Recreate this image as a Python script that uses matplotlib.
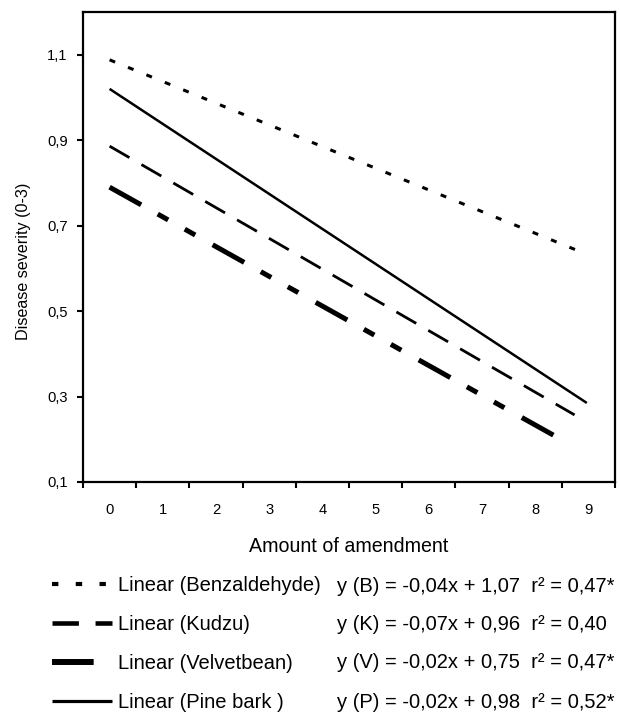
import matplotlib
matplotlib.use("Agg")
import matplotlib.pyplot as plt
from matplotlib import font_manager
from matplotlib.legend_handler import HandlerLine2D

# trendline end points (x = amount of amendment)
names = ["Linear (Benzaldehyde)", "Linear (Kudzu)", "Linear (Velvetbean)", "Linear (Pine bark )"]
x_start = [0, 0, 0, 0]
x_end = [8.83, 8.74, 8.61, 8.97]
y_start = [1.088, 0.886, 0.79, 1.02]
y_end = [0.64, 0.257, 0.191, 0.285]
equations = [
    "y (B) = -0,04x + 1,07  r\u00b2 = 0,47*",
    "y (K) = -0,07x + 0,96  r\u00b2 = 0,40",
    "y (V) = -0,02x + 0,75  r\u00b2 = 0,47*",
    "y (P) = -0,02x + 0,98  r\u00b2 = 0,52*",
]
x_labels = [str(i) for i in range(10)]
y_ticks = [0.1, 0.3, 0.5, 0.7, 0.9, 1.1]

# line looks (dashes in points, not scaled by width)
widths = [2.2, 2.0, 3.6, 1.8]
dashes = [(4.3, 10), (16.5, 10), (26, 13.7, 8.6, 13.7, 8.6, 14.4), None]
# the legend keys are drawn a bit heavier in the original
leg_widths = [3.0, 3.3, 4.3, 2.3]
leg_dashes = [(4.6, 12.5), (19, 12), (30, 100), None]

try:
    font_manager.findfont("Liberation Sans Narrow", fallback_to_default=False)
    fam = "Liberation Sans Narrow"
    k = 1.0
except ValueError:
    fam = "Liberation Sans"
    k = 0.84

plt.rcParams["font.family"] = [fam, "DejaVu Sans"]
plt.rcParams["lines.scale_dashes"] = False

fig = plt.figure(figsize=(6.2, 7.15), dpi=100)
ax = fig.add_axes([83 / 620, 233 / 715, 532 / 620, 470 / 715])

lines = []
for i in range(len(names)):
    ln, = ax.plot([x_start[i], x_end[i]], [y_start[i], y_end[i]], color="black",
                  lw=widths[i], solid_capstyle="butt", label=names[i])
    if dashes[i] is not None:
        ln.set_dashes(dashes[i])
    lines.append(ln)

ax.set_xlim(-0.5, 9.5)
ax.set_ylim(0.1, 1.2)
ax.set_xticks([i - 0.5 for i in range(11)])
ax.set_xticklabels([])
ax.set_xticks(range(10), minor=True)
ax.set_xticklabels(x_labels, minor=True, fontsize=12.6 * k)
ax.set_yticks(y_ticks)
ax.set_yticklabels([("%.1f" % v).replace(".", ",") for v in y_ticks], fontsize=12.6 * k)
ax.tick_params(which="major", direction="out", length=4, width=1.5, pad=7)
ax.tick_params(axis="x", which="minor", length=0, pad=15)
for s in ax.spines.values():
    s.set_linewidth(1.6)

ax.set_xlabel("Amount of amendment", fontsize=16.8 * k)
ax.xaxis.set_label_coords(0.5, -0.116)
ax.set_ylabel("Disease severity (0-3)", fontsize=13.8 * k)
ax.yaxis.set_label_coords(-0.098, 0.469)


def key_style(i):
    def update(leg_line, orig):
        leg_line.update_from(orig)
        leg_line.set_linewidth(leg_widths[i])
        if leg_dashes[i] is not None:
            leg_line.set_dashes(leg_dashes[i])
    return HandlerLine2D(update_func=update)


handler_map = {lines[i]: key_style(i) for i in range(len(lines))}
fig.legend(lines, names, loc="upper left", bbox_to_anchor=(52 / 620, 1 - 576 / 715),
           frameon=False, fontsize=17.3 * k, handlelength=2.97, handletextpad=0.3,
           labelspacing=0.99, borderpad=0, borderaxespad=0, handler_map=handler_map)

rows = [586, 624, 663, 703]
for i in range(len(equations)):
    fig.text(337 / 620, 1 - rows[i] / 715, equations[i], fontsize=17.3 * k, va="center", ha="left")

fig.savefig("out.png", dpi=100)
